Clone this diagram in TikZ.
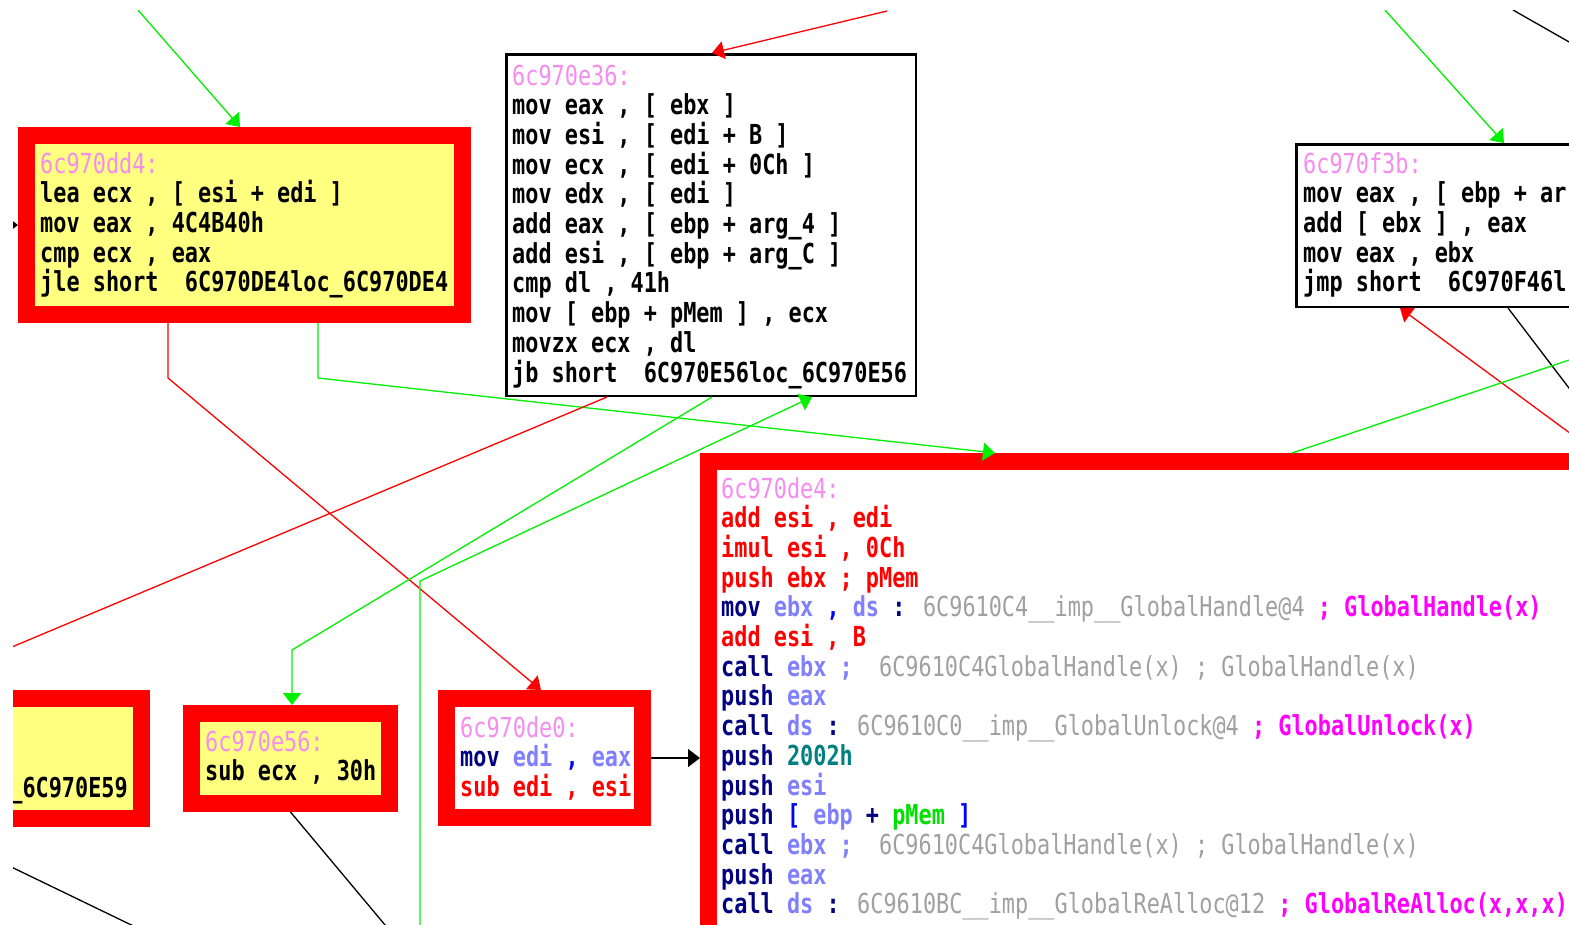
\documentclass[tikz,border=0pt]{standalone}
\usepackage{fontspec}
\usetikzlibrary{arrows.meta,calc}
\newfontfamily\ida[FakeStretch=0.795]{DejaVu Sans Mono}
\definecolor{idared}{HTML}{FF0000}
\definecolor{idayellow}{HTML}{FFFF80}
\definecolor{idagreen}{HTML}{00F000}
\definecolor{idapink}{HTML}{F58CF0}
\definecolor{idanavy}{HTML}{000080}
\definecolor{idalblue}{HTML}{8080FF}
\definecolor{idablue}{HTML}{0000FF}
\definecolor{idagray}{HTML}{A0A0A0}
\definecolor{idamag}{HTML}{FF00FF}
\definecolor{idateal}{HTML}{008080}
\definecolor{idapgreen}{HTML}{00E000}
\newcommand\codebox[1]{\vtop{\ida\bfseries\fontsize{27.5pt}{29.7pt}\selectfont\lineskiplimit=-100pt #1}}
\newcommand\cl[1]{\hbox{#1}}
\newcommand\Cpk[1]{{\mdseries\color{idapink}#1}}
\newcommand\Crd[1]{{\color{idared}#1}}
\newcommand\Cnv[1]{{\color{idanavy}#1}}
\newcommand\Clb[1]{{\color{idalblue}#1}}
\newcommand\Cbl[1]{{\color{idablue}#1}}
\newcommand\Cgy[1]{{\mdseries\color{idagray}#1}}
\newcommand\Cmg[1]{{\color{idamag}#1}}
\newcommand\Ctl[1]{{\color{idateal}#1}}
\newcommand\Cgr[1]{{\color{idapgreen}#1}}
\begin{document}
\begin{tikzpicture}[x=1pt,y=-1pt,
  redbox/.style={draw=idared, line width=17pt, outer sep=8.5pt, inner sep=0pt, anchor=north west},
  blackbox/.style={draw=black, line width=2.5pt, outer sep=1.25pt, inner sep=0pt, fill=white, anchor=north west},
  code/.style={inner sep=0pt, anchor=base west},
  gline/.style={draw=idagreen, line width=1.3pt},
  rline/.style={draw=idared, line width=1.3pt},
  kline/.style={draw=black, line width=1.3pt},
  arr/.style={-{Triangle[length=12pt,width=18pt]}}]
\useasboundingbox (0,0) rectangle (1569,924);
\begin{scope}
\clip (13,10) rectangle (1569,924);
% boxes
\node[redbox, fill=idayellow, minimum width=436pt, minimum height=179pt] (A) at (18,127) {};
\node[blackbox, minimum width=409.5pt, minimum height=341.5pt] (B) at (505,53) {};
\node[blackbox, minimum width=400pt, minimum height=162.5pt] (C) at (1295,143) {};
\node[redbox, fill=white, minimum width=900pt, minimum height=600pt] (D) at (700,453) {};
\node[redbox, fill=white, minimum width=196pt, minimum height=119pt] (E) at (438,690) {};
\node[redbox, fill=idayellow, minimum width=198pt, minimum height=90pt] (F) at (183,705) {};
\node[redbox, fill=idayellow, minimum width=233pt, minimum height=120pt] (G) at (-100,690) {};
% texts
\node[code] (tA) at (40,173) {\codebox{%
  \cl{\Cpk{6c970dd4:}}
  \cl{lea ecx , [ esi + edi ]}
  \cl{mov eax , 4C4B40h}
  \cl{cmp ecx , eax}
  \cl{jle short\ \ 6C970DE4loc\_6C970DE4}}};
\node[code] (tB) at (512,85) {\codebox{%
  \cl{\Cpk{6c970e36:}}
  \cl{mov eax , [ ebx ]}
  \cl{mov esi , [ edi + B ]}
  \cl{mov ecx , [ edi + 0Ch ]}
  \cl{mov edx , [ edi ]}
  \cl{add eax , [ ebp + arg\_4 ]}
  \cl{add esi , [ ebp + arg\_C ]}
  \cl{cmp dl , 41h}
  \cl{mov [ ebp + pMem ] , ecx}
  \cl{movzx ecx , dl}
  \cl{jb short\ \ 6C970E56loc\_6C970E56}}};
\node[code] (tC) at (1303,173) {\codebox{%
  \cl{\Cpk{6c970f3b:}}
  \cl{mov eax , [ ebp + ar}
  \cl{add [ ebx ] , eax}
  \cl{mov eax , ebx}
  \cl{jmp short\ \ 6C970F46l}}};
\node[code] (tD) at (721,498) {\codebox{%
  \cl{\Cpk{6c970de4:}}
  \cl{\Crd{add esi , edi}}
  \cl{\Crd{imul esi , 0Ch}}
  \cl{\Crd{push ebx ; pMem}}
  \cl{\Cnv{mov} \Clb{ebx} \Cbl{,} \Clb{ds} \Cnv{:} \Cgy{6C9610C4\_\_imp\_\_GlobalHandle@4} \Cmg{; GlobalHandle(x)}}
  \cl{\Crd{add esi , B}}
  \cl{\Cnv{call} \Clb{ebx ;}\ \ \Cgy{6C9610C4GlobalHandle(x) ; GlobalHandle(x)}}
  \cl{\Cnv{push} \Clb{eax}}
  \cl{\Cnv{call} \Clb{ds} \Cnv{:} \Cgy{6C9610C0\_\_imp\_\_GlobalUnlock@4} \Cmg{; GlobalUnlock(x)}}
  \cl{\Cnv{push} \Ctl{2002h}}
  \cl{\Cnv{push} \Clb{esi}}
  \cl{\Cnv{push} \Cbl{[} \Clb{ebp} \Cnv{+} \Cgr{pMem} \Cbl{]}}
  \cl{\Cnv{call} \Clb{ebx ;}\ \ \Cgy{6C9610C4GlobalHandle(x) ; GlobalHandle(x)}}
  \cl{\Cnv{push} \Clb{eax}}
  \cl{\Cnv{call} \Clb{ds} \Cnv{:} \Cgy{6C9610BC\_\_imp\_\_GlobalReAlloc@12} \Cmg{; GlobalReAlloc(x,x,x)}}}};
\node[code] (tE) at (460,737) {\codebox{%
  \cl{\Cpk{6c970de0:}}
  \cl{\Cnv{mov} \Clb{edi} \Cbl{,} \Clb{eax}}
  \cl{\Crd{sub edi , esi}}}};
\node[code] (tF) at (205,751) {\codebox{%
  \cl{\Cpk{6c970e56:}}
  \cl{sub ecx , 30h}}};
\node[code, anchor=base east] (tG) at (128,797) {\codebox{\cl{\_6C970E59}}};
% free ends and bends
\coordinate (g1) at (138,10);
\coordinate (r1) at (887,11);
\coordinate (g2) at (1385,10);
\coordinate (k1) at (1513,10);
\coordinate (k2) at (1620,71);
\coordinate (k3) at (1620,455);
\coordinate (r2) at (1620,470);
\coordinate (g3) at (1620,343);
\coordinate (bA1) at (318,378);
\coordinate (bA2) at (168,378);
\coordinate (r3) at (-50,673);
\coordinate (bF) at (292,650);
\coordinate (g4) at (420,1000);
\coordinate (bB) at (420,581);
\coordinate (k4) at (406,950);
\coordinate (k5) at (-30,847);
\coordinate (k6) at (150,934);
\coordinate (k7) at (-40,225);
% edges
\draw[gline,arr] (g1) -- ($(A.north west)+(222,0)$);
\draw[rline,arr] (r1) -- ($(B.north west)+(207,0)$);
\draw[gline,arr] (g2) -- ($(C.north west)+(209,0)$);
\draw[kline] (k1) -- (k2);
\draw[kline] ($(C.south west)+(213,0)$) -- (k3);
\draw[rline,arr] (r2) -- ($(C.south west)+(105,0)$);
\draw[gline] ($(D.north west)+(592,0)$) -- (g3);
\draw[gline,arr] ($(A.south west)+(300,0)$) -- (bA1) -- ($(D.north west)+(295,0)$);
\draw[rline,arr] ($(A.south west)+(150,0)$) -- (bA2) -- ($(E.north west)+(103,0)$);
\draw[rline] ($(B.south west)+(102,0)$) -- (r3);
\draw[gline,arr] ($(B.south west)+(207,0)$) -- (bF) -- ($(F.north west)+(109,0)$);
\draw[gline,arr] (g4) -- (bB) -- ($(B.south west)+(307,0)$);
\draw[kline,arr] (E.east) -- (E.east -| D.west);
\draw[kline] (F.south) -- (k4);
\draw[kline] (k5) -- (k6);
\draw[kline,arr] (k7) -- (A.west);
\end{scope}
\end{tikzpicture}
\end{document}
